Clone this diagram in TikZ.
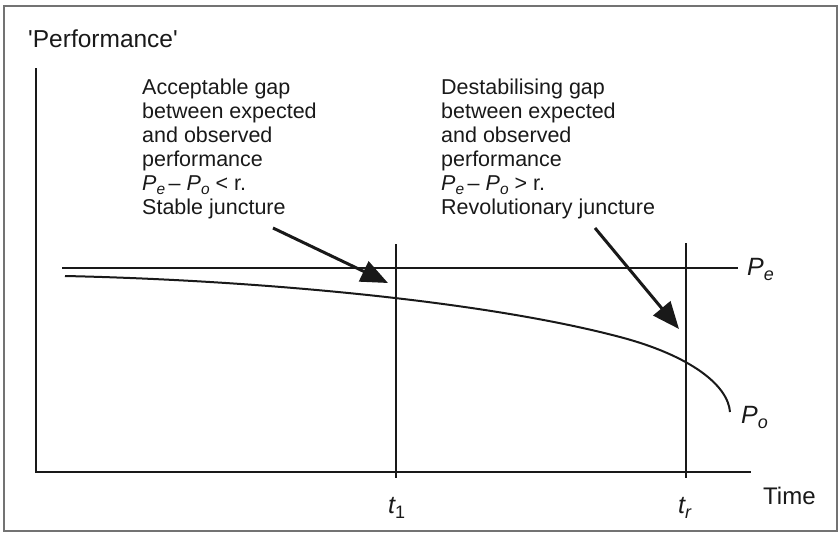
\documentclass[tikz,border=0pt]{standalone}
\usepackage{fontspec}
\setmainfont{Liberation Sans}
\usepackage{graphicx}
\usetikzlibrary{arrows.meta}
\definecolor{framegray}{gray}{0.45}
\definecolor{ink}{gray}{0.1}
\newcommand\mysub[1]{\raisebox{-0.22em}{\scalebox{0.72}{#1}}}
\begin{document}
\begin{tikzpicture}[x=1pt,y=-1pt,
  axis/.style={line width=2.2pt, draw=ink},
  curveline/.style={line width=2pt, draw=ink},
  pointer/.style={line width=3pt, draw=ink, -{Triangle[length=27pt,width=22pt]}},
  body/.style={font=\fontsize{21.5}{24}\selectfont, align=left, inner sep=0pt, anchor=base west, text=ink},
  lab/.style={font=\fontsize{25}{25}\selectfont, inner sep=0pt, anchor=base west, text=ink}]
\useasboundingbox (0,0) rectangle (839,533);
\draw[framegray, line width=1.6pt] (4,6) rectangle (837,531);
% axes
\coordinate (ytop) at (36,68);
\coordinate (origin) at (36,472);
\coordinate (xend) at (751,472);
\draw[axis] (ytop) -- (origin) -- (xend);
% time markers
\coordinate (t1top) at (396,244);
\coordinate (t1bot) at (396,478);
\coordinate (trtop) at (686,243);
\coordinate (trbot) at (686,478);
\draw[axis] (t1top) -- (t1bot);
\draw[axis] (trtop) -- (trbot);
% expected performance
\coordinate (pes) at (62,268);
\coordinate (pee) at (738,268);
\draw[axis] (pes) -- (pee);
% observed performance
\coordinate (pos) at (65,276);
\coordinate (pom) at (620,337);
\coordinate (poe) at (730,412);
\draw[curveline] (pos) .. controls (250,280) and (480,300) .. (pom)
                       .. controls (690,355.5) and (728,385) .. (poe);
% arrows
\coordinate (a1s) at (273,228);
\coordinate (a1e) at (388,283);
\coordinate (a2s) at (595,228);
\coordinate (a2e) at (679,329);
\draw[pointer] (a1s) -- (a1e);
\draw[pointer] (a2s) -- (a2e);
% texts
\node[lab, font=\fontsize{24.5}{25}\selectfont] (title) at (28,47) {\textquotesingle Performance\textquotesingle};
\node[body] (stable) at (142,214) {Acceptable gap\\between expected\\and observed\\performance\\{\itshape P}\mysub{\itshape e}\,– {\itshape P}\mysub{\itshape o} < r.\\Stable juncture};
\node[body] (revol) at (441,214) {Destabilising gap\\between expected\\and observed\\performance\\{\itshape P}\mysub{\itshape e}\,– {\itshape P}\mysub{\itshape o} > r.\\Revolutionary juncture};
\node[lab] (pelab) at (747,275) {{\itshape P}\mysub{\itshape e}};
\node[lab] (polab) at (741,423) {{\itshape P}\mysub{\itshape o}};
\node[lab] (t1lab) at (388,513) {{\itshape t}\mysub{1}};
\node[lab] (trlab) at (678,513) {{\itshape t}\mysub{\itshape r}};
\node[lab, font=\fontsize{24}{24}\selectfont] (time) at (763,504) {Time};
\end{tikzpicture}
\end{document}
